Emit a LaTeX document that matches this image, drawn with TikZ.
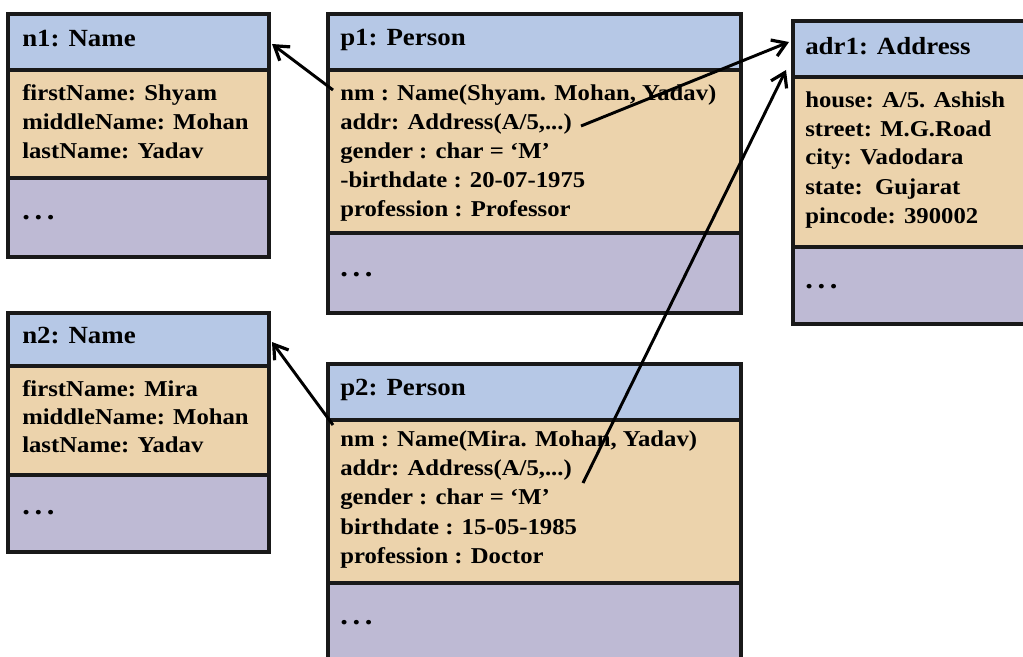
\documentclass[tikz,border=0pt]{standalone}
\usepackage{fontspec}
\setmainfont{Liberation Serif}[FakeStretch=1.09]
\usetikzlibrary{arrows.meta}
\definecolor{hdrc}{RGB}{182,200,230}
\definecolor{attrc}{RGB}{236,211,172}
\definecolor{methc}{RGB}{190,186,212}
\newcommand\umlbox[6]{%
  \fill[hdrc] (#1,#3) rectangle (#2,#4);
  \fill[attrc] (#1,#4) rectangle (#2,#5);
  \fill[methc] (#1,#5) rectangle (#2,#6);
  \draw[border] (#1,#4) -- (#2,#4) (#1,#5) -- (#2,#5);
  \draw[border] (#1,#3) rectangle (#2,#6);
}
\newcommand\umldots{.\hspace{3.5pt}.\hspace{3.5pt}.}
\begin{document}
\begin{tikzpicture}[x=0.75pt,y=-0.75pt,
  border/.style={line width=2.5pt, draw=black!90},
  hd/.style={font=\bfseries\fontsize{18.5}{22}\selectfont, anchor=base west, inner sep=0pt},
  tx/.style={font=\bfseries\fontsize{17}{21}\selectfont, anchor=base west, inner sep=0pt},
  dt/.style={font=\bfseries\fontsize{21}{24}\selectfont, anchor=base west, inner sep=0pt},
  conn/.style={line width=2.2pt, -{Straight Barb[length=10pt,width=13pt,line width=2.4pt]}}]
\useasboundingbox (0,0) rectangle (1023,656);
\fill[white] (0,0) rectangle (1023,656);

% boxes
\umlbox{8}{269}{14}{70}{178}{257}
\umlbox{328}{741}{14}{70}{233}{313}
\umlbox{793}{1040}{21}{77}{247}{324}
\umlbox{8}{269}{313}{366}{475}{552}
\umlbox{328}{741}{364}{420}{583}{680}

% n1
\node[hd] (n1h) at (22,47) {n1: Name};
\node[tx] (n1a1) at (22,101) {firstName: Shyam};
\node[tx] (n1a2) at (22,130) {middleName: Mohan};
\node[tx] (n1a3) at (22,158) {lastName: Yadav};
\node[dt] (n1m) at (22,219) {\umldots};

% p1
\node[hd] (p1h) at (340,46) {p1: Person};
\node[tx] (p1a1) at (340,101) {nm : Name(Shyam. Mohan, Yadav)};
\node[tx] (p1a2) at (340,130) {addr: Address(A/5,...)};
\node[tx] (p1a3) at (340,158) {gender : char = ‘M’};
\node[tx] (p1a4) at (340,187) {-birthdate : 20-07-1975};
\node[tx] (p1a5) at (340,216) {profession : Professor};
\node[dt] (p1m) at (340,276) {\umldots};

% adr1
\node[hd] (adrh) at (805,55) {adr1: Address};
\node[tx] (adra1) at (805,108) {house: A/5. Ashish};
\node[tx] (adra2) at (805,137) {street: M.G.Road};
\node[tx] (adra3) at (805,165) {city: Vadodara};
\node[tx] (adra4) at (805,194) {state:\ \ Gujarat};
\node[tx] (adra5) at (805,223) {pincode: 390002};
\node[dt] (adrm) at (805,288) {\umldots};

% n2
\node[hd] (n2h) at (22,343) {n2: Name};
\node[tx] (n2a1) at (22,396) {firstName: Mira};
\node[tx] (n2a2) at (22,424) {middleName: Mohan};
\node[tx] (n2a3) at (22,452) {lastName: Yadav};
\node[dt] (n2m) at (22,514) {\umldots};

% p2
\node[hd] (p2h) at (340,395) {p2: Person};
\node[tx] (p2a1) at (340,446) {nm : Name(Mira. Mohan, Yadav)};
\node[tx] (p2a2) at (340,475) {addr: Address(A/5,...)};
\node[tx] (p2a3) at (340,504) {gender : char = ‘M’};
\node[tx] (p2a4) at (340,534) {birthdate : 15-05-1985};
\node[tx] (p2a5) at (340,563) {profession : Doctor};
\node[dt] (p2m) at (340,624) {\umldots};

% connector ends
\coordinate (s1) at (333,90);
\coordinate (t1) at (272,44);
\coordinate (s2) at (581,126);
\coordinate (t2) at (789,42);
\coordinate (s3) at (583,483);
\coordinate (t3) at (786,70);
\coordinate (s4) at (333,425);
\coordinate (t4) at (272,342);

\draw[conn] (s1) -- (t1);
\draw[conn] (s2) -- (t2);
\draw[conn] (s3) -- (t3);
\draw[conn] (s4) -- (t4);
\end{tikzpicture}
\end{document}
